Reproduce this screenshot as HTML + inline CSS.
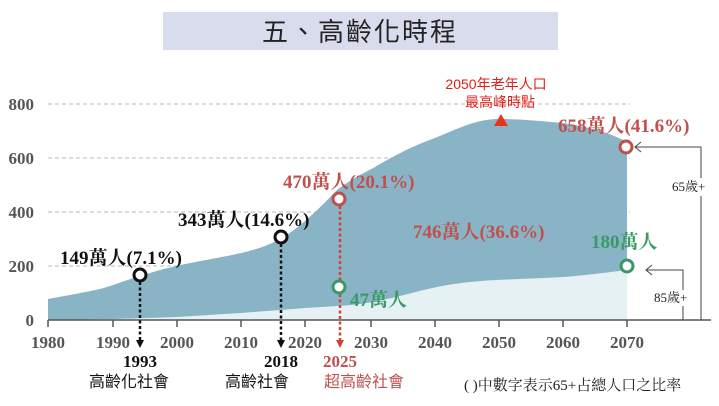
<!DOCTYPE html>
<html><head><meta charset="utf-8"><style>
body{margin:0;background:#fff;}
svg{display:block;font-family:"Liberation Serif","Noto Serif CJK SC",serif;}
.s{font-family:"Liberation Sans","Noto Sans CJK TC",sans-serif;}
</style></head><body>
<svg width="719" height="406" viewBox="0 0 719 406">
<rect x="163" y="12" width="395" height="38" fill="#d9dcec"/>
<text x="360" y="41" text-anchor="middle" class="s" font-size="26" fill="#222" letter-spacing="2">五、高齡化時程</text>
<g stroke="#bbb" stroke-dasharray="4,3" stroke-width="1">
<line x1="48" y1="104" x2="630" y2="104"/><line x1="48" y1="158" x2="630" y2="158"/>
<line x1="48" y1="212" x2="630" y2="212"/><line x1="48" y1="266" x2="630" y2="266"/>
</g>
<path d="M48,299 C80,293 100,290 113,285 C130,279 140,276 160,270 C190,262 220,258 241,253 C262,248 272,244 285,236 C300,227 320,208 337,190 C350,180 360,175 375,167 C395,155 415,145 435,138 C455,130 475,119 499,119 C520,119 540,121 563,123 C590,127 610,133 627,142 L627,320 L48,320Z" fill="#88b4c6"/>
<path d="M48,320 L113,319 177,317 241,313 280,310 305,308 337,306 C360,305 375,302 400,296 C420,291 440,285 470,282 C500,279 530,279 563,277 C590,275 610,272 627,270 L627,320Z" fill="#e6f1f4"/>
<g fill="#555" font-size="17" font-weight="bold">
<text x="34" y="110" text-anchor="end">800</text><text x="34" y="164" text-anchor="end">600</text>
<text x="34" y="218" text-anchor="end">400</text><text x="34" y="272" text-anchor="end">200</text>
<text x="34" y="326" text-anchor="end">0</text>
</g>
<line x1="48" y1="320" x2="711" y2="320" stroke="#555" stroke-width="1.5"/>
<g stroke="#555" stroke-width="1.5">
<line x1="48" y1="320" x2="48" y2="327"/><line x1="113" y1="320" x2="113" y2="327"/><line x1="177" y1="320" x2="177" y2="327"/><line x1="241" y1="320" x2="241" y2="327"/><line x1="305" y1="320" x2="305" y2="327"/><line x1="371" y1="320" x2="371" y2="327"/><line x1="435" y1="320" x2="435" y2="327"/><line x1="499" y1="320" x2="499" y2="327"/><line x1="563" y1="320" x2="563" y2="327"/><line x1="627" y1="320" x2="627" y2="327"/>
</g>
<g fill="#555" font-size="17" font-weight="bold" text-anchor="middle">
<text x="48" y="348">1980</text><text x="113" y="348">1990</text><text x="177" y="348">2000</text><text x="241" y="348">2010</text><text x="305" y="348">2020</text><text x="371" y="348">2030</text><text x="435" y="348">2040</text><text x="499" y="348">2050</text><text x="563" y="348">2060</text><text x="627" y="348">2070</text>
</g>
<g stroke-width="2.5" stroke-dasharray="3,2.5">
<line x1="140" y1="282" x2="140" y2="340" stroke="#111"/>
<line x1="281" y1="244" x2="281" y2="340" stroke="#111"/>
<line x1="340" y1="206" x2="340" y2="340" stroke="#d0433a"/>
</g>
<path d="M136,340 L144,340 140,348Z" fill="#111"/>
<path d="M277,340 L285,340 281,348Z" fill="#111"/>
<path d="M336,340 L344,340 340,348Z" fill="#d0433a"/>
<g fill="#fff" stroke-width="3">
<circle cx="140" cy="275" r="6" stroke="#111"/>
<circle cx="281" cy="237" r="6" stroke="#111"/>
<circle cx="339" cy="199" r="6" stroke="#c0504d"/>
<circle cx="339" cy="287" r="6" stroke="#3a9a65"/>
<circle cx="626" cy="147" r="6" stroke="#c0504d"/>
<circle cx="627" cy="266" r="6" stroke="#3a9a65"/>
</g>
<g font-weight="bold" font-size="19">
<text x="60" y="264" fill="#111">149萬人(7.1%)</text>
<text x="178" y="226" fill="#111">343萬人(14.6%)</text>
<text x="283" y="188" fill="#c0504d">470萬人(20.1%)</text>
<text x="413" y="238" fill="#c0504d">746萬人(36.6%)</text>
<text x="558" y="132" fill="#c0504d">658萬人(41.6%)</text>
<text x="591" y="248" fill="#3a9a65">180萬人</text>
<text x="350" y="306" fill="#3a9a65">47萬人</text>
</g>
<g font-weight="bold" font-size="17" text-anchor="middle">
<text x="140" y="367" fill="#111">1993</text><text x="281" y="367" fill="#111">2018</text><text x="340" y="367" fill="#c0504d">2025</text>
</g>
<g class="s" font-size="16" text-anchor="middle">
<text x="129" y="387" fill="#111">高齡化社會</text><text x="257" y="387" fill="#111">高齡社會</text><text x="364" y="387" fill="#c0504d">超高齡社會</text>
</g>
<text x="496" y="89" class="s" font-size="14" fill="#e0201a" text-anchor="middle">2050年老年人口</text>
<text x="500" y="107" class="s" font-size="14" fill="#e0201a" text-anchor="middle">最高峰時點</text>
<path d="M494,126 L508,126 501,114Z" fill="#e8341c"/>
<g stroke="#444" stroke-width="1" fill="none">
<polyline points="635,147 701,147 701,320"/><polyline points="641,142 635,147 641,152"/>
<polyline points="646,270 683,270 683,320"/><polyline points="652,265 646,270 652,275"/>
</g>
<rect x="670" y="178" width="36" height="18" fill="#fff"/>
<text x="672" y="191" font-size="13" fill="#222">65歲+</text>
<rect x="652" y="290" width="40" height="16" fill="#fff"/>
<text x="654" y="302" font-size="13" fill="#222">85歲+</text>
<text x="464" y="390" font-size="15" fill="#222">( )中數字表示65+占總人口之比率</text>
</svg>
</body></html>
